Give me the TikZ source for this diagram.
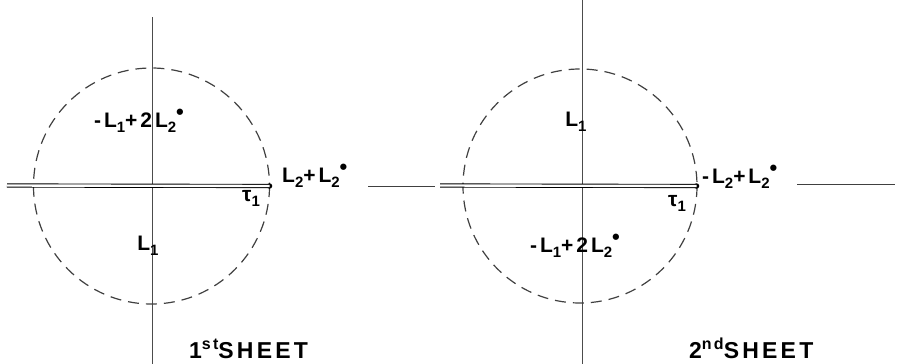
\documentclass[tikz,border=0pt]{standalone}
\usepackage{fontspec}
\setmainfont{Liberation Sans}[LetterSpace=14]
\newcommand\mysub[1]{\raisebox{-5pt}{\fontsize{15}{15}\selectfont #1}}
\newcommand\mystar{\raisebox{8pt}{\fontsize{22}{22}\selectfont •}}
\tikzset{
  axisline/.style={line width=0.8pt, black!70},
  cutline/.style={double, double distance=2.4pt, line width=0.9pt},
  thinline/.style={line width=0.8pt, black!75},
  circline/.style={dash pattern=on 11pt off 7pt, line width=1.2pt, black!75},
  lbl/.style={font=\fontsize{21}{23}\selectfont\bfseries, inner sep=0pt},
  sheetlbl/.style={font=\fontsize{23}{25}\selectfont\bfseries, inner sep=0pt},
  bpoint/.style={circle, fill, inner sep=0pt, minimum size=5.5pt}
}
\begin{document}
\begin{tikzpicture}[x=1pt,y=-1pt]
\useasboundingbox (0,0) rectangle (897,364);
% ---- first sheet
\coordinate (o1) at (151.5,186);
\coordinate (v1t) at (152,17);
\coordinate (v1b) at (152,364);
\draw[axisline] (v1t) -- (v1b);
\draw[circline] (o1) circle[radius=118];
\coordinate (h1a) at (7,185.5);
\node[bpoint] (d1) at (269.5,186) {};
\draw[cutline] (h1a) -- (d1.center);
\coordinate (h1b) at (368,186.5);
\coordinate (h1c) at (435,186.5);
\draw[thinline] (h1b) -- (h1c);
\node[lbl] (a1) at (139,121) {-L\mysub{1}+2L\mysub{2}\mystar};
\node[lbl] (b1) at (148,246) {L\mysub{1}};
\node[lbl, anchor=west] (c1) at (282,176) {L\mysub{2}+L\mysub{2}\mystar};
\node[lbl] (t1) at (251,198) {τ\mysub{1}};
\node[sheetlbl, anchor=base west] (s1) at (189,358) {1\raisebox{9pt}{\fontsize{16}{16}\selectfont st}SHEET};
% ---- second sheet
\coordinate (o2) at (580,186);
\coordinate (v2t) at (582,0);
\coordinate (v2b) at (582,364);
\draw[axisline] (v2t) -- (v2b);
\draw[circline] (o2) circle[radius=117];
\coordinate (h2a) at (440,185.5);
\node[bpoint] (d2) at (696.5,186) {};
\draw[cutline] (h2a) -- (d2.center);
\coordinate (h2b) at (797,184);
\coordinate (h2c) at (895,184);
\draw[thinline] (h2b) -- (h2c);
\node[lbl] (a2) at (576,122) {L\mysub{1}};
\node[lbl] (b2) at (575,246) {-L\mysub{1}+2L\mysub{2}\mystar};
\node[lbl, anchor=west] (c2) at (702,177) {-L\mysub{2}+L\mysub{2}\mystar};
\node[lbl] (t2) at (677,203) {τ\mysub{1}};
\node[sheetlbl, anchor=base west] (s2) at (689,358) {2\raisebox{9pt}{\fontsize{16}{16}\selectfont nd}SHEET};
\end{tikzpicture}
\end{document}
